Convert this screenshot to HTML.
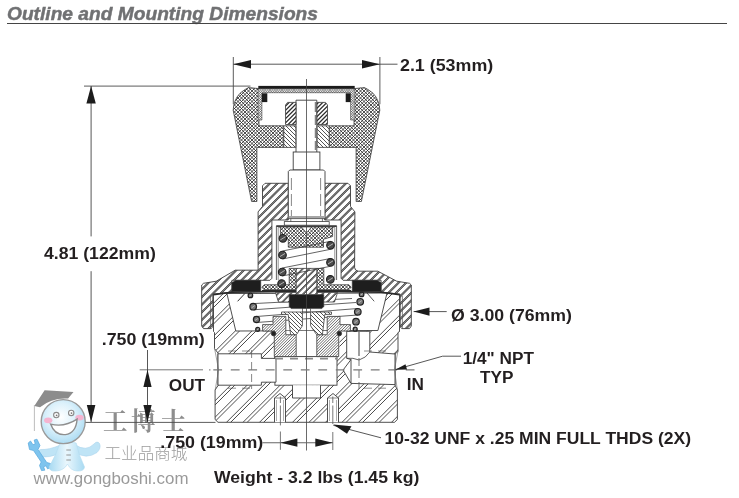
<!DOCTYPE html>
<html><head><meta charset="utf-8"><title>Outline and Mounting Dimensions</title>
<style>
html,body{margin:0;padding:0;background:#fff;}
body{width:739px;height:498px;overflow:hidden;position:relative;font-family:"Liberation Sans","Noto Sans CJK SC",sans-serif;}
#title{position:absolute;left:6.6px;top:2px;font-size:18.2px;font-style:italic;font-weight:700;color:#707173;white-space:nowrap;line-height:24px;transform:scaleX(1.054);transform-origin:0 0;will-change:transform;opacity:0.999;-webkit-text-stroke:0.45px #707173;}
#rule{position:absolute;left:7px;top:22.6px;width:720px;height:1.4px;background:#454545;}
svg{position:absolute;left:0;top:0;will-change:transform;opacity:0.999;}
svg text{font-family:"Liberation Sans","Noto Sans CJK SC",sans-serif;font-weight:700;}
</style></head><body>
<div id="title">Outline and Mounting Dimensions</div>
<div id="rule"></div>
<svg width="739" height="498" viewBox="0 0 739 498">

<g id="wm">
 <path d="M34.3,406 L44.6,390.3 L73.5,392.1 L68.1,398.6 Q52,397.5 40,407.2 Z" fill="#8c8c8c"/>
 <line x1="34.4" y1="405" x2="34.4" y2="431" stroke="#b5b5b5" stroke-width="0.9"/>
 <path d="M60.5,445 Q49,450 40.5,449.5 Q36.5,451 38.5,456 Q50,459 61,452 Z" fill="#bfe4f6" stroke="#a9d4ec" stroke-width="0.6"/>
 <path d="M75.5,445 Q86,452 94,444 Q97,440.5 99.5,443.5 Q101.5,448 97,452.5 Q86,460 75,452 Z" fill="#bfe4f6" stroke="#a9d4ec" stroke-width="0.6"/>
 <path d="M28.2,443 L30.5,441 L33,444.8 L35.2,443.8 L34.2,440 L37,439.2 L40,445.5 L38,449.5 L46.8,462.5 L50.5,463.5 L50.8,467.5 L47.5,468.8 L46,465.8 L43.6,466.8 L44.8,470.2 L41.5,470.6 L39.5,465.5 L41.2,462 L33.5,450.5 L29.5,449.5 Z" fill="#7ec4ee" stroke="#58a8dc" stroke-width="0.7"/>
 <path d="M60,443 Q68,440.5 76.2,443 Q78.5,455 84.5,467 Q84,471.5 77,471 Q70.5,470.5 67.5,464 Q64,470.5 56,471 Q49,471.5 49.2,467 Q56,455 60,443 Z" fill="url(#bg)" stroke="#b4dcf0" stroke-width="0.6"/>
 <path d="M66.3,450 h4.6 M66.3,455 h4.6 M66.3,460 h4.6" stroke="#8a8a8a" stroke-width="0.9"/>
 <circle cx="63.2" cy="421.6" r="22" fill="url(#hg)" stroke="#9a9a9a" stroke-width="1.4"/>
 <ellipse cx="48.2" cy="420.3" rx="4.2" ry="2.9" fill="#f5b4d0"/>
 <ellipse cx="79.5" cy="417.6" rx="4.2" ry="2.9" fill="#f5b4d0"/>
 <circle cx="56.3" cy="415.1" r="2.7" fill="#fff" stroke="#8a8a8a" stroke-width="1.1"/>
 <circle cx="71.2" cy="412.9" r="2.7" fill="#fff" stroke="#8a8a8a" stroke-width="1.1"/>
 <circle cx="56.6" cy="415.3" r="0.9" fill="#777"/><circle cx="71.5" cy="413.1" r="0.9" fill="#777"/>
 <path d="M50.6,424.1 Q64.5,427.5 77.1,419.2 Q76,433 65.4,434.6 Q54.5,435.5 50.6,424.1 Z" fill="#fff" stroke="#8e8e8e" stroke-width="1.4"/>
</g>

<text x="103 131 161" y="430" font-size="24.5" fill="#8e8e8e" style="font-family:'Noto Serif CJK SC','Liberation Serif',serif;font-weight:700">工博士</text><text x="104.6" y="459" font-size="16.4" fill="#9c9c9c" style="font-weight:300" textLength="82.6" lengthAdjust="spacingAndGlyphs">工业品商城</text><text x="33.5" y="483.5" font-size="15.6" fill="#9a9a9a" style="font-weight:400" textLength="155" lengthAdjust="spacingAndGlyphs">www.gongboshi.com</text>
<defs><pattern id="kx" width="3.5" height="3.5" patternUnits="userSpaceOnUse"><rect width="3.5" height="3.5" fill="#fff"/><path d="M-3.5,-3.5 L7.0,7.0 M-3.5,0 L3.5,7.0 M0,-3.5 L7.0,3.5 M-3.5,7.0 L7.0,-3.5 M-3.5,3.5 L3.5,-3.5 M0,7.0 L7.0,0" stroke="#222" stroke-width="0.8" fill="none"/></pattern><pattern id="kf" width="2.4" height="2.4" patternUnits="userSpaceOnUse"><rect width="2.4" height="2.4" fill="#fff"/><path d="M-2.4,-2.4 L4.8,4.8 M-2.4,0 L2.4,4.8 M0,-2.4 L4.8,2.4 M-2.4,4.8 L4.8,-2.4 M-2.4,2.4 L2.4,-2.4 M0,4.8 L4.8,0" stroke="#333" stroke-width="0.5" fill="none"/></pattern><pattern id="hw" width="20" height="5.4801" patternUnits="userSpaceOnUse" patternTransform="rotate(-45)"><rect width="20" height="5.4801" fill="#fff"/><rect x="0" y="-3.654" width="20" height="0.45" fill="#333"/><rect x="0" y="1.826" width="20" height="0.45" fill="#333"/><rect x="0" y="7.306" width="20" height="0.45" fill="#333"/><rect x="0" y="-2.382" width="20" height="0.45" fill="#333"/><rect x="0" y="3.098" width="20" height="0.45" fill="#333"/><rect x="0" y="8.578" width="20" height="0.45" fill="#333"/><rect x="0" y="-3.393" width="20" height="1.2" fill="#9c9c9c"/><rect x="0" y="2.087" width="20" height="1.2" fill="#9c9c9c"/><rect x="0" y="7.567" width="20" height="1.2" fill="#9c9c9c"/></pattern><pattern id="hB" width="20" height="11.6673" patternUnits="userSpaceOnUse" patternTransform="rotate(-45)"><rect width="20" height="11.6673" fill="#fff"/><rect x="0" y="-8.170" width="20" height="0.5" fill="#383838"/><rect x="0" y="3.498" width="20" height="0.5" fill="#383838"/><rect x="0" y="15.165" width="20" height="0.5" fill="#383838"/><rect x="0" y="-5.200" width="20" height="0.5" fill="#383838"/><rect x="0" y="6.468" width="20" height="0.5" fill="#383838"/><rect x="0" y="18.135" width="20" height="0.5" fill="#383838"/></pattern><pattern id="hd" width="20" height="1.9799" patternUnits="userSpaceOnUse" patternTransform="rotate(-45)"><rect width="20" height="1.9799" fill="#fff"/><rect x="0" y="-2.305" width="20" height="0.65" fill="#333"/><rect x="0" y="-0.325" width="20" height="0.65" fill="#333"/><rect x="0" y="1.655" width="20" height="0.65" fill="#333"/></pattern><pattern id="hn" width="20" height="2.9698" patternUnits="userSpaceOnUse" patternTransform="rotate(-45)"><rect width="20" height="2.9698" fill="#fff"/><rect x="0" y="-2.888" width="20" height="1.25" fill="#333"/><rect x="0" y="0.082" width="20" height="1.25" fill="#333"/><rect x="0" y="3.052" width="20" height="1.25" fill="#333"/></pattern><pattern id="hb" width="20" height="2.8284" patternUnits="userSpaceOnUse" patternTransform="rotate(45)"><rect width="20" height="2.8284" fill="#fff"/><rect x="0" y="-3.128" width="20" height="0.6" fill="#333"/><rect x="0" y="-0.300" width="20" height="0.6" fill="#333"/><rect x="0" y="2.528" width="20" height="0.6" fill="#333"/></pattern><pattern id="hp" width="20" height="3.5355" patternUnits="userSpaceOnUse" patternTransform="rotate(-45)"><rect width="20" height="3.5355" fill="#fff"/><rect x="0" y="-4.036" width="20" height="1.0" fill="#3a3a3a"/><rect x="0" y="-0.500" width="20" height="1.0" fill="#3a3a3a"/><rect x="0" y="3.036" width="20" height="1.0" fill="#3a3a3a"/></pattern>
<radialGradient id="hg" cx="0.45" cy="0.4" r="0.65">
 <stop offset="0" stop-color="#ffffff"/><stop offset="0.5" stop-color="#dcf1fb"/><stop offset="1" stop-color="#a6d9f2"/>
</radialGradient>
<linearGradient id="bg" x1="0" x2="1" y1="0" y2="0">
 <stop offset="0" stop-color="#a8daf2"/><stop offset="0.5" stop-color="#eaf7fd"/><stop offset="1" stop-color="#a8daf2"/>
</linearGradient>
</defs>

<clipPath id="c1"><path d="M213.5,293.0 L213.5,331.5 L214.5,332.5 L214.5,348.7 L218.0,353.0 L218.0,385.5 L215.1,390.0 L215.1,419.5 L218.0,422.3 L394.5,422.3 L397.4,419.5 L397.4,390.0 L395.0,385.0 L395.0,354.0 L398.0,351.5 L398.0,332.5 L399.5,331.5 L399.5,293.0Z"/></clipPath>
<path d="M213.5,293.0 L213.5,331.5 L214.5,332.5 L214.5,348.7 L218.0,353.0 L218.0,385.5 L215.1,390.0 L215.1,419.5 L218.0,422.3 L394.5,422.3 L397.4,419.5 L397.4,390.0 L395.0,385.0 L395.0,354.0 L398.0,351.5 L398.0,332.5 L399.5,331.5 L399.5,293.0Z" fill="#fff" stroke="none"/>
<g clip-path="url(#c1)" fill="none">
<path d="M93.50,423.30L224.80,292.00M110.00,423.30L241.30,292.00M126.50,423.30L257.80,292.00M143.00,423.30L274.30,292.00M159.50,423.30L290.80,292.00M176.00,423.30L307.30,292.00M192.50,423.30L323.80,292.00M209.00,423.30L340.30,292.00M225.50,423.30L356.80,292.00M242.00,423.30L373.30,292.00M258.50,423.30L389.80,292.00M275.00,423.30L406.30,292.00M291.50,423.30L422.80,292.00M308.00,423.30L439.30,292.00M324.50,423.30L455.80,292.00M341.00,423.30L472.30,292.00M357.50,423.30L488.80,292.00M374.00,423.30L505.30,292.00M390.50,423.30L521.80,292.00M81.20,423.30L212.50,292.00M97.70,423.30L229.00,292.00M114.20,423.30L245.50,292.00M130.70,423.30L262.00,292.00M147.20,423.30L278.50,292.00M163.70,423.30L295.00,292.00M180.20,423.30L311.50,292.00M196.70,423.30L328.00,292.00M213.20,423.30L344.50,292.00M229.70,423.30L361.00,292.00M246.20,423.30L377.50,292.00M262.70,423.30L394.00,292.00M279.20,423.30L410.50,292.00M295.70,423.30L427.00,292.00M312.20,423.30L443.50,292.00M328.70,423.30L460.00,292.00M345.20,423.30L476.50,292.00M361.70,423.30L493.00,292.00M378.20,423.30L509.50,292.00M394.70,423.30L526.00,292.00" stroke="#2c2c2c" stroke-width="0.85"/>
</g>
<path d="M213.5,293.0 L213.5,331.5 L214.5,332.5 L214.5,348.7 L218.0,353.0 L218.0,385.5 L215.1,390.0 L215.1,419.5 L218.0,422.3 L394.5,422.3 L397.4,419.5 L397.4,390.0 L395.0,385.0 L395.0,354.0 L398.0,351.5 L398.0,332.5 L399.5,331.5 L399.5,293.0Z" fill="none" stroke="#3c3c3c" stroke-width="0.9"/>
<path d="M226.9,293.5 L235.8,331.0 L377.9,330.5 L387.0,293.0Z" fill="#fff" stroke="#3c3c3c" stroke-width="0.9" />
<rect x="274.3" y="331.0" width="65.1" height="26.0" fill="#fff" stroke="none" stroke-width="0.9" />
<rect x="274.9" y="356.6" width="62.1" height="28.6" fill="#fff" stroke="#3c3c3c" stroke-width="0.9" />
<path d="M292.5,385.2 L292.5,398.0 L320.5,398.0 L320.5,385.2" fill="#fff" stroke="#3c3c3c" stroke-width="0.9" />
<path d="M218.0,353.8 L261.4,353.8 L261.4,358.4 L276.0,358.4 L276.0,382.2 L261.4,382.2 L261.4,385.2 L218.0,385.2Z" fill="#fff" stroke="#3c3c3c" stroke-width="0.9" />
<path d="M395.0,354.0 L369.8,352.0 L369.8,331.3 L346.7,331.3 L346.7,358.3 L351.0,359.5 L343.1,370.0 L351.0,383.4 L395.0,384.6Z" fill="#fff" stroke="#3c3c3c" stroke-width="0.9" />
<line x1="351.0" y1="359.5" x2="351.0" y2="383.4" stroke="#3c3c3c" stroke-width="0.9" />
<path d="M346.7,358.3 Q353,357.5 359,360 Q366,358 369.8,352" fill="none" stroke="#3c3c3c" stroke-width="0.8" />
<line x1="359.0" y1="331.8" x2="359.0" y2="356.0" stroke="#6a6a6a" stroke-width="1.3" />
<path d="M274.5,422.3 L274.5,398.0 L280.0,393.5 L285.5,398.0 L285.5,422.3" fill="#fff" stroke="#3c3c3c" stroke-width="0.9" />
<line x1="274.5" y1="398.0" x2="285.5" y2="398.0" stroke="#3c3c3c" stroke-width="0.6" />
<line x1="276.5" y1="400.0" x2="276.5" y2="421.0" stroke="#777" stroke-width="0.6" />
<line x1="283.5" y1="400.0" x2="283.5" y2="421.0" stroke="#777" stroke-width="0.6" />
<path d="M327.5,422.3 L327.5,398.0 L333.0,393.5 L338.5,398.0 L338.5,422.3" fill="#fff" stroke="#3c3c3c" stroke-width="0.9" />
<line x1="327.5" y1="398.0" x2="338.5" y2="398.0" stroke="#3c3c3c" stroke-width="0.6" />
<line x1="329.5" y1="400.0" x2="329.5" y2="421.0" stroke="#777" stroke-width="0.6" />
<line x1="336.5" y1="400.0" x2="336.5" y2="421.0" stroke="#777" stroke-width="0.6" />
<line x1="228.0" y1="351.0" x2="253.0" y2="351.0" stroke="#444" stroke-width="0.6" stroke-dasharray="8,6"/>
<line x1="364.0" y1="351.0" x2="392.0" y2="351.0" stroke="#444" stroke-width="0.6" stroke-dasharray="8,6"/>
<line x1="228.0" y1="388.2" x2="253.0" y2="388.2" stroke="#444" stroke-width="0.6" stroke-dasharray="8,6"/>
<line x1="364.0" y1="388.2" x2="392.0" y2="388.2" stroke="#444" stroke-width="0.6" stroke-dasharray="8,6"/>
<line x1="251.6" y1="350.0" x2="251.6" y2="389.0" stroke="#555" stroke-width="0.7" stroke-dasharray="8,4"/>
<line x1="359.0" y1="358.0" x2="359.0" y2="389.0" stroke="#555" stroke-width="0.8" stroke-dasharray="8,4"/>
<line x1="253.2" y1="303.6" x2="352.0" y2="298.5" stroke="#3c3c3c" stroke-width="0.8" />
<line x1="253.2" y1="309.8" x2="356.0" y2="302.5" stroke="#3c3c3c" stroke-width="0.8" />
<line x1="256.5" y1="316.5" x2="357.8" y2="308.5" stroke="#3c3c3c" stroke-width="0.8" />
<line x1="256.5" y1="322.5" x2="357.8" y2="315.0" stroke="#3c3c3c" stroke-width="0.8" />
<circle cx="253.2" cy="306.7" r="3.3" fill="#777" stroke="#222" stroke-width="1.2"/>
<line x1="251.5" y1="307.9" x2="254.8" y2="305.5" stroke="#ddd" stroke-width="0.6" />
<circle cx="256.5" cy="319.5" r="3.1" fill="#777" stroke="#222" stroke-width="1.2"/>
<line x1="254.9" y1="320.6" x2="258.1" y2="318.4" stroke="#ddd" stroke-width="0.6" />
<circle cx="257.7" cy="329.3" r="2.0" fill="#777" stroke="#222" stroke-width="1.2"/>
<line x1="256.7" y1="330.0" x2="258.7" y2="328.6" stroke="#ddd" stroke-width="0.6" />
<circle cx="360.2" cy="301.8" r="3.3" fill="#777" stroke="#222" stroke-width="1.2"/>
<line x1="358.6" y1="303.0" x2="361.8" y2="300.6" stroke="#ddd" stroke-width="0.6" />
<circle cx="357.8" cy="311.8" r="3.3" fill="#777" stroke="#222" stroke-width="1.2"/>
<line x1="356.2" y1="313.0" x2="359.4" y2="310.6" stroke="#ddd" stroke-width="0.6" />
<circle cx="356.0" cy="321.7" r="3.3" fill="#777" stroke="#222" stroke-width="1.2"/>
<line x1="354.4" y1="322.9" x2="357.6" y2="320.5" stroke="#ddd" stroke-width="0.6" />
<circle cx="250.4" cy="295.4" r="2.3" fill="#777" stroke="#222" stroke-width="1.2"/>
<line x1="249.2" y1="296.2" x2="251.6" y2="294.6" stroke="#ddd" stroke-width="0.6" />
<circle cx="361.6" cy="294.4" r="2.3" fill="#777" stroke="#222" stroke-width="1.2"/>
<line x1="360.5" y1="295.2" x2="362.8" y2="293.6" stroke="#ddd" stroke-width="0.6" />
<circle cx="355.2" cy="329.2" r="2.0" fill="#777" stroke="#222" stroke-width="1.2"/>
<line x1="354.2" y1="329.9" x2="356.2" y2="328.5" stroke="#ddd" stroke-width="0.6" />
<line x1="237.6" y1="301.3" x2="245.0" y2="293.4" stroke="#333" stroke-width="1.0" />
<line x1="367.0" y1="293.0" x2="374.2" y2="301.3" stroke="#333" stroke-width="0.8" />
<clipPath id="c2"><path d="M273.0,316.4 L285.8,316.4 L285.8,334.7 L296.2,334.7 L296.2,356.6 L274.3,356.6 L274.3,331.0 L262.6,331.0 L262.6,324.6 L273.0,324.6Z M340.0,316.4 L327.2,316.4 L327.2,334.7 L316.8,334.7 L316.8,356.6 L338.7,356.6 L338.7,331.0 L350.4,331.0 L350.4,324.6 L340.0,324.6Z"/></clipPath>
<path d="M273.0,316.4 L285.8,316.4 L285.8,334.7 L296.2,334.7 L296.2,356.6 L274.3,356.6 L274.3,331.0 L262.6,331.0 L262.6,324.6 L273.0,324.6Z M340.0,316.4 L327.2,316.4 L327.2,334.7 L316.8,334.7 L316.8,356.6 L338.7,356.6 L338.7,331.0 L350.4,331.0 L350.4,324.6 L340.0,324.6Z" fill="#fff" stroke="none"/>
<g clip-path="url(#c2)" fill="none">
<path d="M222.00,357.60L264.20,315.40M224.80,357.60L267.00,315.40M227.60,357.60L269.80,315.40M230.40,357.60L272.60,315.40M233.20,357.60L275.40,315.40M236.00,357.60L278.20,315.40M238.80,357.60L281.00,315.40M241.60,357.60L283.80,315.40M244.40,357.60L286.60,315.40M247.20,357.60L289.40,315.40M250.00,357.60L292.20,315.40M252.80,357.60L295.00,315.40M255.60,357.60L297.80,315.40M258.40,357.60L300.60,315.40M261.20,357.60L303.40,315.40M264.00,357.60L306.20,315.40M266.80,357.60L309.00,315.40M269.60,357.60L311.80,315.40M272.40,357.60L314.60,315.40M275.20,357.60L317.40,315.40M278.00,357.60L320.20,315.40M280.80,357.60L323.00,315.40M283.60,357.60L325.80,315.40M286.40,357.60L328.60,315.40M289.20,357.60L331.40,315.40M292.00,357.60L334.20,315.40M294.80,357.60L337.00,315.40M297.60,357.60L339.80,315.40M300.40,357.60L342.60,315.40M303.20,357.60L345.40,315.40M306.00,357.60L348.20,315.40M308.80,357.60L351.00,315.40M311.60,357.60L353.80,315.40M314.40,357.60L356.60,315.40M317.20,357.60L359.40,315.40M320.00,357.60L362.20,315.40M322.80,357.60L365.00,315.40M325.60,357.60L367.80,315.40M328.40,357.60L370.60,315.40M331.20,357.60L373.40,315.40M334.00,357.60L376.20,315.40M336.80,357.60L379.00,315.40M339.60,357.60L381.80,315.40M342.40,357.60L384.60,315.40M345.20,357.60L387.40,315.40M348.00,357.60L390.20,315.40M350.80,357.60L393.00,315.40" stroke="#2e2e2e" stroke-width="0.7"/>
</g>
<path d="M273.0,316.4 L285.8,316.4 L285.8,334.7 L296.2,334.7 L296.2,356.6 L274.3,356.6 L274.3,331.0 L262.6,331.0 L262.6,324.6 L273.0,324.6Z M340.0,316.4 L327.2,316.4 L327.2,334.7 L316.8,334.7 L316.8,356.6 L338.7,356.6 L338.7,331.0 L350.4,331.0 L350.4,324.6 L340.0,324.6Z" fill="none" stroke="#3c3c3c" stroke-width="0.8"/>
<clipPath id="c3"><path d="M281.5,312.0 L302.4,312.0 L302.4,325.8 L296.4,334.7 L290.6,334.7 L288.2,314.4 L281.5,314.4Z M331.5,312.0 L310.6,312.0 L310.6,325.8 L316.6,334.7 L322.4,334.7 L324.8,314.4 L331.5,314.4Z"/></clipPath>
<path d="M281.5,312.0 L302.4,312.0 L302.4,325.8 L296.4,334.7 L290.6,334.7 L288.2,314.4 L281.5,314.4Z M331.5,312.0 L310.6,312.0 L310.6,325.8 L316.6,334.7 L322.4,334.7 L324.8,314.4 L331.5,314.4Z" fill="#fff" stroke="none"/>
<g clip-path="url(#c3)" fill="none">
<path d="M259.00,311.00L283.70,335.70M263.00,311.00L287.70,335.70M267.00,311.00L291.70,335.70M271.00,311.00L295.70,335.70M275.00,311.00L299.70,335.70M279.00,311.00L303.70,335.70M283.00,311.00L307.70,335.70M287.00,311.00L311.70,335.70M291.00,311.00L315.70,335.70M295.00,311.00L319.70,335.70M299.00,311.00L323.70,335.70M303.00,311.00L327.70,335.70M307.00,311.00L331.70,335.70M311.00,311.00L335.70,335.70M315.00,311.00L339.70,335.70M319.00,311.00L343.70,335.70M323.00,311.00L347.70,335.70M327.00,311.00L351.70,335.70M331.00,311.00L355.70,335.70" stroke="#2a2a2a" stroke-width="0.8"/>
</g>
<path d="M281.5,312.0 L302.4,312.0 L302.4,325.8 L296.4,334.7 L290.6,334.7 L288.2,314.4 L281.5,314.4Z M331.5,312.0 L310.6,312.0 L310.6,325.8 L316.6,334.7 L322.4,334.7 L324.8,314.4 L331.5,314.4Z" fill="none" stroke="#3c3c3c" stroke-width="0.8"/>
<circle cx="273.6" cy="333.6" r="2.3" fill="#222" stroke="#3c3c3c" stroke-width="0.9"/>
<circle cx="339.3" cy="333.6" r="2.3" fill="#222" stroke="#3c3c3c" stroke-width="0.9"/>
<line x1="275.0" y1="358.6" x2="337.0" y2="358.6" stroke="#8a8a8a" stroke-width="1.6" stroke-dasharray="8,7"/>
<clipPath id="c4"><path d="M275.4,292.4 L337.6,292.4 L334.5,302.0 L278.5,302.0Z"/></clipPath>
<path d="M275.4,292.4 L337.6,292.4 L334.5,302.0 L278.5,302.0Z" fill="#fff" stroke="none"/>
<g clip-path="url(#c4)" fill="none">
<path d="M268.60,303.00L280.20,291.40M275.00,303.00L286.60,291.40M281.40,303.00L293.00,291.40M287.80,303.00L299.40,291.40M294.20,303.00L305.80,291.40M300.60,303.00L312.20,291.40M307.00,303.00L318.60,291.40M313.40,303.00L325.00,291.40M319.80,303.00L331.40,291.40M326.20,303.00L337.80,291.40M332.60,303.00L344.20,291.40" stroke="#8a8a8a" stroke-width="1.4"/>
<path d="M267.80,303.00L279.40,291.40M274.20,303.00L285.80,291.40M280.60,303.00L292.20,291.40M287.00,303.00L298.60,291.40M293.40,303.00L305.00,291.40M299.80,303.00L311.40,291.40M306.20,303.00L317.80,291.40M312.60,303.00L324.20,291.40M319.00,303.00L330.60,291.40M325.40,303.00L337.00,291.40M331.80,303.00L343.40,291.40M338.20,303.00L349.80,291.40M263.00,303.00L274.60,291.40M269.40,303.00L281.00,291.40M275.80,303.00L287.40,291.40M282.20,303.00L293.80,291.40M288.60,303.00L300.20,291.40M295.00,303.00L306.60,291.40M301.40,303.00L313.00,291.40M307.80,303.00L319.40,291.40M314.20,303.00L325.80,291.40M320.60,303.00L332.20,291.40M327.00,303.00L338.60,291.40M333.40,303.00L345.00,291.40" stroke="#222" stroke-width="0.6"/>
</g>
<path d="M275.4,292.4 L337.6,292.4 L334.5,302.0 L278.5,302.0Z" fill="none" stroke="#3c3c3c" stroke-width="0.8"/>
<path d="M289.2,294.6 L323.8,294.6 L323.8,306.5 L321.8,308.6 L291.2,308.6 L289.2,306.5Z" fill="#1e1e1e" stroke="#3c3c3c" stroke-width="0.6" />
<rect x="302.6" y="308.6" width="7.8" height="3.2" fill="#fff" stroke="#3c3c3c" stroke-width="0.7" />
<clipPath id="c5"><path d="M288.3,183.3 L265.0,183.3 L262.5,185.8 L262.5,206.4 L258.1,211.9 L258.1,270.2 L235.2,270.2 L216.3,281.2 L203.5,283.3 L201.7,285.0 L201.7,326.0 L203.5,328.6 L211.0,328.6 L212.8,327.0 L212.8,294.2 L231.9,292.0 L231.9,280.3 L269.9,280.3 L271.9,278.3 L271.9,220.0 L288.3,220.0Z M324.7,183.3 L348.0,183.3 L350.5,185.8 L350.5,206.4 L354.9,211.9 L354.6,267.6 L355.6,270.0 L358.2,271.2 L377.8,271.2 L396.7,281.2 L409.5,283.3 L411.3,285.0 L411.3,326.0 L409.5,328.6 L402.0,328.6 L400.2,327.0 L400.2,294.2 L381.1,292.0 L381.1,280.3 L343.1,280.3 L341.1,278.3 L341.1,220.0 L324.7,220.0Z"/></clipPath>
<path d="M288.3,183.3 L265.0,183.3 L262.5,185.8 L262.5,206.4 L258.1,211.9 L258.1,270.2 L235.2,270.2 L216.3,281.2 L203.5,283.3 L201.7,285.0 L201.7,326.0 L203.5,328.6 L211.0,328.6 L212.8,327.0 L212.8,294.2 L231.9,292.0 L231.9,280.3 L269.9,280.3 L271.9,278.3 L271.9,220.0 L288.3,220.0Z M324.7,183.3 L348.0,183.3 L350.5,185.8 L350.5,206.4 L354.9,211.9 L354.6,267.6 L355.6,270.0 L358.2,271.2 L377.8,271.2 L396.7,281.2 L409.5,283.3 L411.3,285.0 L411.3,326.0 L409.5,328.6 L402.0,328.6 L400.2,327.0 L400.2,294.2 L381.1,292.0 L381.1,280.3 L343.1,280.3 L341.1,278.3 L341.1,220.0 L324.7,220.0Z" fill="#fff" stroke="none"/>
<g clip-path="url(#c5)" fill="none">
<path d="M55.30,329.60L202.60,182.30M62.90,329.60L210.20,182.30M70.50,329.60L217.80,182.30M78.10,329.60L225.40,182.30M85.70,329.60L233.00,182.30M93.30,329.60L240.60,182.30M100.90,329.60L248.20,182.30M108.50,329.60L255.80,182.30M116.10,329.60L263.40,182.30M123.70,329.60L271.00,182.30M131.30,329.60L278.60,182.30M138.90,329.60L286.20,182.30M146.50,329.60L293.80,182.30M154.10,329.60L301.40,182.30M161.70,329.60L309.00,182.30M169.30,329.60L316.60,182.30M176.90,329.60L324.20,182.30M184.50,329.60L331.80,182.30M192.10,329.60L339.40,182.30M199.70,329.60L347.00,182.30M207.30,329.60L354.60,182.30M214.90,329.60L362.20,182.30M222.50,329.60L369.80,182.30M230.10,329.60L377.40,182.30M237.70,329.60L385.00,182.30M245.30,329.60L392.60,182.30M252.90,329.60L400.20,182.30M260.50,329.60L407.80,182.30M268.10,329.60L415.40,182.30M275.70,329.60L423.00,182.30M283.30,329.60L430.60,182.30M290.90,329.60L438.20,182.30M298.50,329.60L445.80,182.30M306.10,329.60L453.40,182.30M313.70,329.60L461.00,182.30M321.30,329.60L468.60,182.30M328.90,329.60L476.20,182.30M336.50,329.60L483.80,182.30M344.10,329.60L491.40,182.30M351.70,329.60L499.00,182.30M359.30,329.60L506.60,182.30M366.90,329.60L514.20,182.30M374.50,329.60L521.80,182.30M382.10,329.60L529.40,182.30M389.70,329.60L537.00,182.30M397.30,329.60L544.60,182.30M404.90,329.60L552.20,182.30" stroke="#8a8a8a" stroke-width="1.7"/>
<path d="M54.30,329.60L201.60,182.30M61.90,329.60L209.20,182.30M69.50,329.60L216.80,182.30M77.10,329.60L224.40,182.30M84.70,329.60L232.00,182.30M92.30,329.60L239.60,182.30M99.90,329.60L247.20,182.30M107.50,329.60L254.80,182.30M115.10,329.60L262.40,182.30M122.70,329.60L270.00,182.30M130.30,329.60L277.60,182.30M137.90,329.60L285.20,182.30M145.50,329.60L292.80,182.30M153.10,329.60L300.40,182.30M160.70,329.60L308.00,182.30M168.30,329.60L315.60,182.30M175.90,329.60L323.20,182.30M183.50,329.60L330.80,182.30M191.10,329.60L338.40,182.30M198.70,329.60L346.00,182.30M206.30,329.60L353.60,182.30M213.90,329.60L361.20,182.30M221.50,329.60L368.80,182.30M229.10,329.60L376.40,182.30M236.70,329.60L384.00,182.30M244.30,329.60L391.60,182.30M251.90,329.60L399.20,182.30M259.50,329.60L406.80,182.30M267.10,329.60L414.40,182.30M274.70,329.60L422.00,182.30M282.30,329.60L429.60,182.30M289.90,329.60L437.20,182.30M297.50,329.60L444.80,182.30M305.10,329.60L452.40,182.30M312.70,329.60L460.00,182.30M320.30,329.60L467.60,182.30M327.90,329.60L475.20,182.30M335.50,329.60L482.80,182.30M343.10,329.60L490.40,182.30M350.70,329.60L498.00,182.30M358.30,329.60L505.60,182.30M365.90,329.60L513.20,182.30M373.50,329.60L520.80,182.30M381.10,329.60L528.40,182.30M388.70,329.60L536.00,182.30M396.30,329.60L543.60,182.30M403.90,329.60L551.20,182.30M411.50,329.60L558.80,182.30M56.30,329.60L203.60,182.30M63.90,329.60L211.20,182.30M71.50,329.60L218.80,182.30M79.10,329.60L226.40,182.30M86.70,329.60L234.00,182.30M94.30,329.60L241.60,182.30M101.90,329.60L249.20,182.30M109.50,329.60L256.80,182.30M117.10,329.60L264.40,182.30M124.70,329.60L272.00,182.30M132.30,329.60L279.60,182.30M139.90,329.60L287.20,182.30M147.50,329.60L294.80,182.30M155.10,329.60L302.40,182.30M162.70,329.60L310.00,182.30M170.30,329.60L317.60,182.30M177.90,329.60L325.20,182.30M185.50,329.60L332.80,182.30M193.10,329.60L340.40,182.30M200.70,329.60L348.00,182.30M208.30,329.60L355.60,182.30M215.90,329.60L363.20,182.30M223.50,329.60L370.80,182.30M231.10,329.60L378.40,182.30M238.70,329.60L386.00,182.30M246.30,329.60L393.60,182.30M253.90,329.60L401.20,182.30M261.50,329.60L408.80,182.30M269.10,329.60L416.40,182.30M276.70,329.60L424.00,182.30M284.30,329.60L431.60,182.30M291.90,329.60L439.20,182.30M299.50,329.60L446.80,182.30M307.10,329.60L454.40,182.30M314.70,329.60L462.00,182.30M322.30,329.60L469.60,182.30M329.90,329.60L477.20,182.30M337.50,329.60L484.80,182.30M345.10,329.60L492.40,182.30M352.70,329.60L500.00,182.30M360.30,329.60L507.60,182.30M367.90,329.60L515.20,182.30M375.50,329.60L522.80,182.30M383.10,329.60L530.40,182.30M390.70,329.60L538.00,182.30M398.30,329.60L545.60,182.30M405.90,329.60L553.20,182.30" stroke="#202020" stroke-width="0.65"/>
</g>
<path d="M288.3,183.3 L265.0,183.3 L262.5,185.8 L262.5,206.4 L258.1,211.9 L258.1,270.2 L235.2,270.2 L216.3,281.2 L203.5,283.3 L201.7,285.0 L201.7,326.0 L203.5,328.6 L211.0,328.6 L212.8,327.0 L212.8,294.2 L231.9,292.0 L231.9,280.3 L269.9,280.3 L271.9,278.3 L271.9,220.0 L288.3,220.0Z M324.7,183.3 L348.0,183.3 L350.5,185.8 L350.5,206.4 L354.9,211.9 L354.6,267.6 L355.6,270.0 L358.2,271.2 L377.8,271.2 L396.7,281.2 L409.5,283.3 L411.3,285.0 L411.3,326.0 L409.5,328.6 L402.0,328.6 L400.2,327.0 L400.2,294.2 L381.1,292.0 L381.1,280.3 L343.1,280.3 L341.1,278.3 L341.1,220.0 L324.7,220.0Z" fill="none" stroke="#3c3c3c" stroke-width="0.9"/>
<line x1="210.6" y1="296.0" x2="210.6" y2="328.0" stroke="#555" stroke-width="0.7" />
<line x1="402.4" y1="296.0" x2="402.4" y2="328.0" stroke="#555" stroke-width="0.7" />
<path d="M231.9,282.5 L236.0,280.3 L260.8,280.3 L260.8,291.3 L231.9,291.8Z" fill="#1e1e1e" stroke="#3c3c3c" stroke-width="0.5" />
<path d="M381.1,282.5 L377.0,280.3 L352.2,280.3 L352.2,291.3 L381.1,291.8Z" fill="#1e1e1e" stroke="#3c3c3c" stroke-width="0.5" />
<path d="M213.5,294.6 L232.0,292.3 L275.0,291.2 L338.0,291.2 L381.0,292.3 L399.5,294.6" fill="none" stroke="#2a2a2a" stroke-width="1.6" />
<line x1="262.0" y1="291.0" x2="296.2" y2="291.0" stroke="#2a2a2a" stroke-width="2.2" />
<line x1="316.8" y1="291.0" x2="351.0" y2="291.0" stroke="#2a2a2a" stroke-width="2.2" />
<clipPath id="c6"><path d="M289.2,268.4 L296.2,268.4 L296.2,289.7 L264.0,289.7 L262.0,287.3 L264.0,284.8 L289.2,284.8Z M323.8,268.4 L316.8,268.4 L316.8,289.7 L349.0,289.7 L351.0,287.3 L349.0,284.8 L323.8,284.8Z"/></clipPath>
<path d="M289.2,268.4 L296.2,268.4 L296.2,289.7 L264.0,289.7 L262.0,287.3 L264.0,284.8 L289.2,284.8Z M323.8,268.4 L316.8,268.4 L316.8,289.7 L349.0,289.7 L351.0,287.3 L349.0,284.8 L323.8,284.8Z" fill="#fff" stroke="none"/>
<g clip-path="url(#c6)" fill="none">
<path d="M237.80,290.70L261.10,267.40M241.30,290.70L264.60,267.40M244.80,290.70L268.10,267.40M248.30,290.70L271.60,267.40M251.80,290.70L275.10,267.40M255.30,290.70L278.60,267.40M258.80,290.70L282.10,267.40M262.30,290.70L285.60,267.40M265.80,290.70L289.10,267.40M269.30,290.70L292.60,267.40M272.80,290.70L296.10,267.40M276.30,290.70L299.60,267.40M279.80,290.70L303.10,267.40M283.30,290.70L306.60,267.40M286.80,290.70L310.10,267.40M290.30,290.70L313.60,267.40M293.80,290.70L317.10,267.40M297.30,290.70L320.60,267.40M300.80,290.70L324.10,267.40M304.30,290.70L327.60,267.40M307.80,290.70L331.10,267.40M311.30,290.70L334.60,267.40M314.80,290.70L338.10,267.40M318.30,290.70L341.60,267.40M321.80,290.70L345.10,267.40M325.30,290.70L348.60,267.40M328.80,290.70L352.10,267.40M332.30,290.70L355.60,267.40M335.80,290.70L359.10,267.40M339.30,290.70L362.60,267.40M342.80,290.70L366.10,267.40M346.30,290.70L369.60,267.40M349.80,290.70L373.10,267.40M239.40,267.40L262.70,290.70M242.90,267.40L266.20,290.70M246.40,267.40L269.70,290.70M249.90,267.40L273.20,290.70M253.40,267.40L276.70,290.70M256.90,267.40L280.20,290.70M260.40,267.40L283.70,290.70M263.90,267.40L287.20,290.70M267.40,267.40L290.70,290.70M270.90,267.40L294.20,290.70M274.40,267.40L297.70,290.70M277.90,267.40L301.20,290.70M281.40,267.40L304.70,290.70M284.90,267.40L308.20,290.70M288.40,267.40L311.70,290.70M291.90,267.40L315.20,290.70M295.40,267.40L318.70,290.70M298.90,267.40L322.20,290.70M302.40,267.40L325.70,290.70M305.90,267.40L329.20,290.70M309.40,267.40L332.70,290.70M312.90,267.40L336.20,290.70M316.40,267.40L339.70,290.70M319.90,267.40L343.20,290.70M323.40,267.40L346.70,290.70M326.90,267.40L350.20,290.70M330.40,267.40L353.70,290.70M333.90,267.40L357.20,290.70M337.40,267.40L360.70,290.70M340.90,267.40L364.20,290.70M344.40,267.40L367.70,290.70M347.90,267.40L371.20,290.70M351.40,267.40L374.70,290.70" stroke="#222" stroke-width="0.8"/>
</g>
<path d="M289.2,268.4 L296.2,268.4 L296.2,289.7 L264.0,289.7 L262.0,287.3 L264.0,284.8 L289.2,284.8Z M323.8,268.4 L316.8,268.4 L316.8,289.7 L349.0,289.7 L351.0,287.3 L349.0,284.8 L323.8,284.8Z" fill="none" stroke="#3c3c3c" stroke-width="0.8"/>
<clipPath id="c7"><path d="M296.2,268.4 L316.8,268.4 L316.8,294.6 L296.2,294.6Z"/></clipPath>
<path d="M296.2,268.4 L316.8,268.4 L316.8,294.6 L296.2,294.6Z" fill="#fff" stroke="none"/>
<g clip-path="url(#c7)" fill="none">
<path d="M269.60,295.60L297.80,267.40M276.00,295.60L304.20,267.40M282.40,295.60L310.60,267.40M288.80,295.60L317.00,267.40M295.20,295.60L323.40,267.40M301.60,295.60L329.80,267.40M308.00,295.60L336.20,267.40M314.40,295.60L342.60,267.40" stroke="#8a8a8a" stroke-width="1.4"/>
<path d="M268.80,295.60L297.00,267.40M275.20,295.60L303.40,267.40M281.60,295.60L309.80,267.40M288.00,295.60L316.20,267.40M294.40,295.60L322.60,267.40M300.80,295.60L329.00,267.40M307.20,295.60L335.40,267.40M313.60,295.60L341.80,267.40M270.40,295.60L298.60,267.40M276.80,295.60L305.00,267.40M283.20,295.60L311.40,267.40M289.60,295.60L317.80,267.40M296.00,295.60L324.20,267.40M302.40,295.60L330.60,267.40M308.80,295.60L337.00,267.40M315.20,295.60L343.40,267.40" stroke="#222" stroke-width="0.6"/>
</g>
<path d="M296.2,268.4 L316.8,268.4 L316.8,294.6 L296.2,294.6Z" fill="none" stroke="#3c3c3c" stroke-width="0.8"/>
<path d="M276.4,280.0 L276.4,225.8 L336.6,225.8 L336.6,280.0" fill="none" stroke="#3c3c3c" stroke-width="0.8" />
<line x1="276.4" y1="226.2" x2="336.6" y2="226.2" stroke="#3c3c3c" stroke-width="1.5" />
<path d="M278.2,280.0 L278.2,227.4 L334.8,227.4 L334.8,280.0" fill="none" stroke="#666" stroke-width="0.7" />
<rect x="284.3" y="221.6" width="44.9" height="3.6" fill="#fff" stroke="#3c3c3c" stroke-width="0.8" />
<clipPath id="c8"><path d="M280.4,227.0 L332.6,227.0 L332.6,236.5 L323.5,239.2 L323.5,247.2 L288.3,247.2 L288.3,239.2 L280.4,236.5Z"/></clipPath>
<path d="M280.4,227.0 L332.6,227.0 L332.6,236.5 L323.5,239.2 L323.5,247.2 L288.3,247.2 L288.3,239.2 L280.4,236.5Z" fill="#fff" stroke="none"/>
<g clip-path="url(#c8)" fill="none">
<path d="M259.30,248.20L281.50,226.00M262.80,248.20L285.00,226.00M266.30,248.20L288.50,226.00M269.80,248.20L292.00,226.00M273.30,248.20L295.50,226.00M276.80,248.20L299.00,226.00M280.30,248.20L302.50,226.00M283.80,248.20L306.00,226.00M287.30,248.20L309.50,226.00M290.80,248.20L313.00,226.00M294.30,248.20L316.50,226.00M297.80,248.20L320.00,226.00M301.30,248.20L323.50,226.00M304.80,248.20L327.00,226.00M308.30,248.20L330.50,226.00M311.80,248.20L334.00,226.00M315.30,248.20L337.50,226.00M318.80,248.20L341.00,226.00M322.30,248.20L344.50,226.00M325.80,248.20L348.00,226.00M329.30,248.20L351.50,226.00M332.80,248.20L355.00,226.00M257.50,226.00L279.70,248.20M261.00,226.00L283.20,248.20M264.50,226.00L286.70,248.20M268.00,226.00L290.20,248.20M271.50,226.00L293.70,248.20M275.00,226.00L297.20,248.20M278.50,226.00L300.70,248.20M282.00,226.00L304.20,248.20M285.50,226.00L307.70,248.20M289.00,226.00L311.20,248.20M292.50,226.00L314.70,248.20M296.00,226.00L318.20,248.20M299.50,226.00L321.70,248.20M303.00,226.00L325.20,248.20M306.50,226.00L328.70,248.20M310.00,226.00L332.20,248.20M313.50,226.00L335.70,248.20M317.00,226.00L339.20,248.20M320.50,226.00L342.70,248.20M324.00,226.00L346.20,248.20M327.50,226.00L349.70,248.20M331.00,226.00L353.20,248.20" stroke="#222" stroke-width="0.8"/>
</g>
<path d="M280.4,227.0 L332.6,227.0 L332.6,236.5 L323.5,239.2 L323.5,247.2 L288.3,247.2 L288.3,239.2 L280.4,236.5Z" fill="none" stroke="#3c3c3c" stroke-width="0.8"/>
<path d="M301.5,227.0 L306.5,233.0 L311.5,227.0Z" fill="#fff" stroke="#3c3c3c" stroke-width="0.7" />
<line x1="282.5" y1="251.0" x2="330.5" y2="241.3" stroke="#3c3c3c" stroke-width="0.8" />
<line x1="282.5" y1="259.0" x2="330.5" y2="249.3" stroke="#3c3c3c" stroke-width="0.8" />
<line x1="282.2" y1="268.0" x2="330.3" y2="258.5" stroke="#3c3c3c" stroke-width="0.8" />
<line x1="282.2" y1="276.0" x2="330.3" y2="266.3" stroke="#3c3c3c" stroke-width="0.8" />
<circle cx="282.9" cy="238.3" r="3.8" fill="#4a4a4a" stroke="#1e1e1e" stroke-width="1.1"/>
<line x1="280.3" y1="239.9" x2="285.5" y2="236.7" stroke="#e0e0e0" stroke-width="0.7" />
<circle cx="282.5" cy="255.0" r="3.8" fill="#4a4a4a" stroke="#1e1e1e" stroke-width="1.1"/>
<line x1="279.9" y1="256.6" x2="285.1" y2="253.4" stroke="#e0e0e0" stroke-width="0.7" />
<circle cx="282.2" cy="272.0" r="3.8" fill="#4a4a4a" stroke="#1e1e1e" stroke-width="1.1"/>
<line x1="279.6" y1="273.6" x2="284.8" y2="270.4" stroke="#e0e0e0" stroke-width="0.7" />
<circle cx="281.6" cy="283.6" r="3.8" fill="#4a4a4a" stroke="#1e1e1e" stroke-width="1.1"/>
<line x1="279.0" y1="285.2" x2="284.2" y2="282.0" stroke="#e0e0e0" stroke-width="0.7" />
<circle cx="330.5" cy="245.3" r="3.8" fill="#4a4a4a" stroke="#1e1e1e" stroke-width="1.1"/>
<line x1="327.9" y1="246.9" x2="333.1" y2="243.7" stroke="#e0e0e0" stroke-width="0.7" />
<circle cx="330.5" cy="262.4" r="3.8" fill="#4a4a4a" stroke="#1e1e1e" stroke-width="1.1"/>
<line x1="327.9" y1="264.0" x2="333.1" y2="260.8" stroke="#e0e0e0" stroke-width="0.7" />
<circle cx="330.3" cy="279.4" r="3.8" fill="#4a4a4a" stroke="#1e1e1e" stroke-width="1.1"/>
<line x1="327.7" y1="281.0" x2="332.9" y2="277.8" stroke="#e0e0e0" stroke-width="0.7" />
<path d="M296.0,152.0 L296.0,100.2 L316.8,100.2 L316.8,152.0" fill="#fff" stroke="#3c3c3c" stroke-width="0.9" />
<rect x="293.2" y="152.0" width="26.7" height="18.0" fill="#fff" stroke="#3c3c3c" stroke-width="0.9" />
<path d="M288.3,218.6 L288.3,171.5 L289.8,170.0 L323.5,170.0 L325.0,171.5 L325.0,218.6" fill="#fff" stroke="#3c3c3c" stroke-width="0.9" />
<rect x="288.8" y="216.0" width="35.7" height="2.2" fill="#a6a6a6" stroke="none" stroke-width="0.9" />
<line x1="288.3" y1="218.6" x2="325.0" y2="218.6" stroke="#3c3c3c" stroke-width="0.8" />
<line x1="290.8" y1="218.6" x2="290.8" y2="221.6" stroke="#3c3c3c" stroke-width="0.7" />
<line x1="322.4" y1="218.6" x2="322.4" y2="221.6" stroke="#3c3c3c" stroke-width="0.7" />
<line x1="315.3" y1="102.0" x2="315.3" y2="150.0" stroke="#666" stroke-width="1.0" stroke-dasharray="10,3"/>
<line x1="291.4" y1="178.0" x2="291.4" y2="216.0" stroke="#555" stroke-width="0.7" stroke-dasharray="12,4"/>
<line x1="320.6" y1="178.0" x2="320.6" y2="216.0" stroke="#555" stroke-width="0.7" stroke-dasharray="12,4"/>
<clipPath id="c9"><path d="M248.6,87.6 L244.5,89.8 L240.0,93.3 L237.0,97.0 L235.0,101.2 L233.7,105.5 L233.2,110.3 L251.6,201.5 L256.9,201.5 L256.9,147.4 L283.8,147.4 L283.8,125.8 L259.0,125.8 L259.0,88.6Z M364.4,87.6 L368.5,89.8 L373.0,93.3 L376.0,97.0 L378.0,101.2 L379.3,105.5 L379.8,110.3 L361.4,201.5 L356.1,201.5 L356.1,147.4 L329.2,147.4 L329.2,125.8 L354.0,125.8 L354.0,88.6Z"/></clipPath>
<path d="M248.6,87.6 L244.5,89.8 L240.0,93.3 L237.0,97.0 L235.0,101.2 L233.7,105.5 L233.2,110.3 L251.6,201.5 L256.9,201.5 L256.9,147.4 L283.8,147.4 L283.8,125.8 L259.0,125.8 L259.0,88.6Z M364.4,87.6 L368.5,89.8 L373.0,93.3 L376.0,97.0 L378.0,101.2 L379.3,105.5 L379.8,110.3 L361.4,201.5 L356.1,201.5 L356.1,147.4 L329.2,147.4 L329.2,125.8 L354.0,125.8 L354.0,88.6Z" fill="#fff" stroke="none"/>
<g clip-path="url(#c9)" fill="none">
<path d="M119.50,202.50L235.40,86.60M123.00,202.50L238.90,86.60M126.50,202.50L242.40,86.60M130.00,202.50L245.90,86.60M133.50,202.50L249.40,86.60M137.00,202.50L252.90,86.60M140.50,202.50L256.40,86.60M144.00,202.50L259.90,86.60M147.50,202.50L263.40,86.60M151.00,202.50L266.90,86.60M154.50,202.50L270.40,86.60M158.00,202.50L273.90,86.60M161.50,202.50L277.40,86.60M165.00,202.50L280.90,86.60M168.50,202.50L284.40,86.60M172.00,202.50L287.90,86.60M175.50,202.50L291.40,86.60M179.00,202.50L294.90,86.60M182.50,202.50L298.40,86.60M186.00,202.50L301.90,86.60M189.50,202.50L305.40,86.60M193.00,202.50L308.90,86.60M196.50,202.50L312.40,86.60M200.00,202.50L315.90,86.60M203.50,202.50L319.40,86.60M207.00,202.50L322.90,86.60M210.50,202.50L326.40,86.60M214.00,202.50L329.90,86.60M217.50,202.50L333.40,86.60M221.00,202.50L336.90,86.60M224.50,202.50L340.40,86.60M228.00,202.50L343.90,86.60M231.50,202.50L347.40,86.60M235.00,202.50L350.90,86.60M238.50,202.50L354.40,86.60M242.00,202.50L357.90,86.60M245.50,202.50L361.40,86.60M249.00,202.50L364.90,86.60M252.50,202.50L368.40,86.60M256.00,202.50L371.90,86.60M259.50,202.50L375.40,86.60M263.00,202.50L378.90,86.60M266.50,202.50L382.40,86.60M270.00,202.50L385.90,86.60M273.50,202.50L389.40,86.60M277.00,202.50L392.90,86.60M280.50,202.50L396.40,86.60M284.00,202.50L399.90,86.60M287.50,202.50L403.40,86.60M291.00,202.50L406.90,86.60M294.50,202.50L410.40,86.60M298.00,202.50L413.90,86.60M301.50,202.50L417.40,86.60M305.00,202.50L420.90,86.60M308.50,202.50L424.40,86.60M312.00,202.50L427.90,86.60M315.50,202.50L431.40,86.60M319.00,202.50L434.90,86.60M322.50,202.50L438.40,86.60M326.00,202.50L441.90,86.60M329.50,202.50L445.40,86.60M333.00,202.50L448.90,86.60M336.50,202.50L452.40,86.60M340.00,202.50L455.90,86.60M343.50,202.50L459.40,86.60M347.00,202.50L462.90,86.60M350.50,202.50L466.40,86.60M354.00,202.50L469.90,86.60M357.50,202.50L473.40,86.60M361.00,202.50L476.90,86.60M364.50,202.50L480.40,86.60M368.00,202.50L483.90,86.60M371.50,202.50L487.40,86.60M375.00,202.50L490.90,86.60M378.50,202.50L494.40,86.60M118.10,86.60L234.00,202.50M121.60,86.60L237.50,202.50M125.10,86.60L241.00,202.50M128.60,86.60L244.50,202.50M132.10,86.60L248.00,202.50M135.60,86.60L251.50,202.50M139.10,86.60L255.00,202.50M142.60,86.60L258.50,202.50M146.10,86.60L262.00,202.50M149.60,86.60L265.50,202.50M153.10,86.60L269.00,202.50M156.60,86.60L272.50,202.50M160.10,86.60L276.00,202.50M163.60,86.60L279.50,202.50M167.10,86.60L283.00,202.50M170.60,86.60L286.50,202.50M174.10,86.60L290.00,202.50M177.60,86.60L293.50,202.50M181.10,86.60L297.00,202.50M184.60,86.60L300.50,202.50M188.10,86.60L304.00,202.50M191.60,86.60L307.50,202.50M195.10,86.60L311.00,202.50M198.60,86.60L314.50,202.50M202.10,86.60L318.00,202.50M205.60,86.60L321.50,202.50M209.10,86.60L325.00,202.50M212.60,86.60L328.50,202.50M216.10,86.60L332.00,202.50M219.60,86.60L335.50,202.50M223.10,86.60L339.00,202.50M226.60,86.60L342.50,202.50M230.10,86.60L346.00,202.50M233.60,86.60L349.50,202.50M237.10,86.60L353.00,202.50M240.60,86.60L356.50,202.50M244.10,86.60L360.00,202.50M247.60,86.60L363.50,202.50M251.10,86.60L367.00,202.50M254.60,86.60L370.50,202.50M258.10,86.60L374.00,202.50M261.60,86.60L377.50,202.50M265.10,86.60L381.00,202.50M268.60,86.60L384.50,202.50M272.10,86.60L388.00,202.50M275.60,86.60L391.50,202.50M279.10,86.60L395.00,202.50M282.60,86.60L398.50,202.50M286.10,86.60L402.00,202.50M289.60,86.60L405.50,202.50M293.10,86.60L409.00,202.50M296.60,86.60L412.50,202.50M300.10,86.60L416.00,202.50M303.60,86.60L419.50,202.50M307.10,86.60L423.00,202.50M310.60,86.60L426.50,202.50M314.10,86.60L430.00,202.50M317.60,86.60L433.50,202.50M321.10,86.60L437.00,202.50M324.60,86.60L440.50,202.50M328.10,86.60L444.00,202.50M331.60,86.60L447.50,202.50M335.10,86.60L451.00,202.50M338.60,86.60L454.50,202.50M342.10,86.60L458.00,202.50M345.60,86.60L461.50,202.50M349.10,86.60L465.00,202.50M352.60,86.60L468.50,202.50M356.10,86.60L472.00,202.50M359.60,86.60L475.50,202.50M363.10,86.60L479.00,202.50M366.60,86.60L482.50,202.50M370.10,86.60L486.00,202.50M373.60,86.60L489.50,202.50M377.10,86.60L493.00,202.50M380.60,86.60L496.50,202.50" stroke="#222" stroke-width="0.8"/>
</g>
<path d="M248.6,87.6 L244.5,89.8 L240.0,93.3 L237.0,97.0 L235.0,101.2 L233.7,105.5 L233.2,110.3 L251.6,201.5 L256.9,201.5 L256.9,147.4 L283.8,147.4 L283.8,125.8 L259.0,125.8 L259.0,88.6Z M364.4,87.6 L368.5,89.8 L373.0,93.3 L376.0,97.0 L378.0,101.2 L379.3,105.5 L379.8,110.3 L361.4,201.5 L356.1,201.5 L356.1,147.4 L329.2,147.4 L329.2,125.8 L354.0,125.8 L354.0,88.6Z" fill="none" stroke="#3c3c3c" stroke-width="0.8"/>
<clipPath id="c10"><path d="M258.0,88.6 L355.0,88.6 L355.0,120.0 L350.6,120.0 L350.6,92.7 L261.9,92.7 L261.9,120.0 L258.0,120.0Z"/></clipPath>
<path d="M258.0,88.6 L355.0,88.6 L355.0,120.0 L350.6,120.0 L350.6,92.7 L261.9,92.7 L261.9,120.0 L258.0,120.0Z" fill="#fff" stroke="none"/>
<g clip-path="url(#c10)" fill="none">
<path d="M224.60,121.00L258.00,87.60M227.00,121.00L260.40,87.60M229.40,121.00L262.80,87.60M231.80,121.00L265.20,87.60M234.20,121.00L267.60,87.60M236.60,121.00L270.00,87.60M239.00,121.00L272.40,87.60M241.40,121.00L274.80,87.60M243.80,121.00L277.20,87.60M246.20,121.00L279.60,87.60M248.60,121.00L282.00,87.60M251.00,121.00L284.40,87.60M253.40,121.00L286.80,87.60M255.80,121.00L289.20,87.60M258.20,121.00L291.60,87.60M260.60,121.00L294.00,87.60M263.00,121.00L296.40,87.60M265.40,121.00L298.80,87.60M267.80,121.00L301.20,87.60M270.20,121.00L303.60,87.60M272.60,121.00L306.00,87.60M275.00,121.00L308.40,87.60M277.40,121.00L310.80,87.60M279.80,121.00L313.20,87.60M282.20,121.00L315.60,87.60M284.60,121.00L318.00,87.60M287.00,121.00L320.40,87.60M289.40,121.00L322.80,87.60M291.80,121.00L325.20,87.60M294.20,121.00L327.60,87.60M296.60,121.00L330.00,87.60M299.00,121.00L332.40,87.60M301.40,121.00L334.80,87.60M303.80,121.00L337.20,87.60M306.20,121.00L339.60,87.60M308.60,121.00L342.00,87.60M311.00,121.00L344.40,87.60M313.40,121.00L346.80,87.60M315.80,121.00L349.20,87.60M318.20,121.00L351.60,87.60M320.60,121.00L354.00,87.60M323.00,121.00L356.40,87.60M325.40,121.00L358.80,87.60M327.80,121.00L361.20,87.60M330.20,121.00L363.60,87.60M332.60,121.00L366.00,87.60M335.00,121.00L368.40,87.60M337.40,121.00L370.80,87.60M339.80,121.00L373.20,87.60M342.20,121.00L375.60,87.60M344.60,121.00L378.00,87.60M347.00,121.00L380.40,87.60M349.40,121.00L382.80,87.60M351.80,121.00L385.20,87.60M354.20,121.00L387.60,87.60M224.40,87.60L257.80,121.00M226.80,87.60L260.20,121.00M229.20,87.60L262.60,121.00M231.60,87.60L265.00,121.00M234.00,87.60L267.40,121.00M236.40,87.60L269.80,121.00M238.80,87.60L272.20,121.00M241.20,87.60L274.60,121.00M243.60,87.60L277.00,121.00M246.00,87.60L279.40,121.00M248.40,87.60L281.80,121.00M250.80,87.60L284.20,121.00M253.20,87.60L286.60,121.00M255.60,87.60L289.00,121.00M258.00,87.60L291.40,121.00M260.40,87.60L293.80,121.00M262.80,87.60L296.20,121.00M265.20,87.60L298.60,121.00M267.60,87.60L301.00,121.00M270.00,87.60L303.40,121.00M272.40,87.60L305.80,121.00M274.80,87.60L308.20,121.00M277.20,87.60L310.60,121.00M279.60,87.60L313.00,121.00M282.00,87.60L315.40,121.00M284.40,87.60L317.80,121.00M286.80,87.60L320.20,121.00M289.20,87.60L322.60,121.00M291.60,87.60L325.00,121.00M294.00,87.60L327.40,121.00M296.40,87.60L329.80,121.00M298.80,87.60L332.20,121.00M301.20,87.60L334.60,121.00M303.60,87.60L337.00,121.00M306.00,87.60L339.40,121.00M308.40,87.60L341.80,121.00M310.80,87.60L344.20,121.00M313.20,87.60L346.60,121.00M315.60,87.60L349.00,121.00M318.00,87.60L351.40,121.00M320.40,87.60L353.80,121.00M322.80,87.60L356.20,121.00M325.20,87.60L358.60,121.00M327.60,87.60L361.00,121.00M330.00,87.60L363.40,121.00M332.40,87.60L365.80,121.00M334.80,87.60L368.20,121.00M337.20,87.60L370.60,121.00M339.60,87.60L373.00,121.00M342.00,87.60L375.40,121.00M344.40,87.60L377.80,121.00M346.80,87.60L380.20,121.00M349.20,87.60L382.60,121.00M351.60,87.60L385.00,121.00M354.00,87.60L387.40,121.00" stroke="#333" stroke-width="0.5"/>
</g>
<path d="M258.0,88.6 L355.0,88.6 L355.0,120.0 L350.6,120.0 L350.6,92.7 L261.9,92.7 L261.9,120.0 L258.0,120.0Z" fill="none" stroke="#3c3c3c" stroke-width="0.6"/>
<rect x="258.3" y="85.9" width="96.4" height="2.8" fill="#1c1c1c" stroke="none" stroke-width="0.9" />
<rect x="261.9" y="93.3" width="5.4" height="8.8" fill="#1c1c1c" stroke="none" stroke-width="0.9" />
<rect x="345.7" y="93.3" width="4.9" height="8.8" fill="#1c1c1c" stroke="none" stroke-width="0.9" />
<clipPath id="c11"><path d="M287.5,102.4 L296.0,102.4 L296.0,124.5 L285.5,124.5 L285.5,105.0Z M325.5,102.4 L317.0,102.4 L317.0,124.5 L327.5,124.5 L327.5,105.0Z"/></clipPath>
<path d="M287.5,102.4 L296.0,102.4 L296.0,124.5 L285.5,124.5 L285.5,105.0Z M325.5,102.4 L317.0,102.4 L317.0,124.5 L327.5,124.5 L327.5,105.0Z" fill="#fff" stroke="none"/>
<g clip-path="url(#c11)" fill="none">
<path d="M261.90,125.50L286.00,101.40M266.10,125.50L290.20,101.40M270.30,125.50L294.40,101.40M274.50,125.50L298.60,101.40M278.70,125.50L302.80,101.40M282.90,125.50L307.00,101.40M287.10,125.50L311.20,101.40M291.30,125.50L315.40,101.40M295.50,125.50L319.60,101.40M299.70,125.50L323.80,101.40M303.90,125.50L328.00,101.40M308.10,125.50L332.20,101.40M312.30,125.50L336.40,101.40M316.50,125.50L340.60,101.40M320.70,125.50L344.80,101.40M324.90,125.50L349.00,101.40" stroke="#2e2e2e" stroke-width="1.3"/>
</g>
<path d="M287.5,102.4 L296.0,102.4 L296.0,124.5 L285.5,124.5 L285.5,105.0Z M325.5,102.4 L317.0,102.4 L317.0,124.5 L327.5,124.5 L327.5,105.0Z" fill="none" stroke="#3c3c3c" stroke-width="0.8"/>
<clipPath id="c12"><path d="M283.8,125.8 L295.8,125.8 L295.8,147.4 L283.8,147.4Z M329.2,125.8 L317.2,125.8 L317.2,147.4 L329.2,147.4Z"/></clipPath>
<path d="M283.8,125.8 L295.8,125.8 L295.8,147.4 L283.8,147.4Z M329.2,125.8 L317.2,125.8 L317.2,147.4 L329.2,147.4Z" fill="#fff" stroke="none"/>
<g clip-path="url(#c12)" fill="none">
<path d="M260.80,124.80L284.40,148.40M264.80,124.80L288.40,148.40M268.80,124.80L292.40,148.40M272.80,124.80L296.40,148.40M276.80,124.80L300.40,148.40M280.80,124.80L304.40,148.40M284.80,124.80L308.40,148.40M288.80,124.80L312.40,148.40M292.80,124.80L316.40,148.40M296.80,124.80L320.40,148.40M300.80,124.80L324.40,148.40M304.80,124.80L328.40,148.40M308.80,124.80L332.40,148.40M312.80,124.80L336.40,148.40M316.80,124.80L340.40,148.40M320.80,124.80L344.40,148.40M324.80,124.80L348.40,148.40M328.80,124.80L352.40,148.40" stroke="#2a2a2a" stroke-width="0.8"/>
</g>
<path d="M283.8,125.8 L295.8,125.8 L295.8,147.4 L283.8,147.4Z M329.2,125.8 L317.2,125.8 L317.2,147.4 L329.2,147.4Z" fill="none" stroke="#3c3c3c" stroke-width="0.8"/>
<line x1="306.5" y1="79.0" x2="306.5" y2="450.5" stroke="#444" stroke-width="0.8" />
<line x1="139.7" y1="369.8" x2="203.0" y2="369.8" stroke="#555" stroke-width="0.8" />
<line x1="209.0" y1="369.8" x2="210.5" y2="369.8" stroke="#8a8a8a" stroke-width="1.2" />
<line x1="213.3" y1="369.8" x2="414.5" y2="369.8" stroke="#7a7a7a" stroke-width="1.2" stroke-dasharray="8.8,8.7"/>
<path d="M214.7,349.0 L218.6,369.8 L215.2,390.0" fill="none" stroke="#666" stroke-width="0.6" />
<path d="M398.0,351.0 L394.4,369.8 L397.4,390.0" fill="none" stroke="#666" stroke-width="0.6" />
<line x1="233.3" y1="57.0" x2="233.3" y2="104.2" stroke="#4a4a4a" stroke-width="0.9" />
<line x1="379.9" y1="57.0" x2="379.9" y2="104.2" stroke="#4a4a4a" stroke-width="0.9" />
<line x1="233.3" y1="64.2" x2="397.5" y2="64.2" stroke="#444" stroke-width="0.9" />
<path d="M233.3,64.2 L251.0,59.9 L251.0,68.5Z" fill="#1c1c1c" stroke="none" stroke-width="0.9" />
<path d="M379.9,64.2 L362.0,59.9 L362.0,68.5Z" fill="#1c1c1c" stroke="none" stroke-width="0.9" />
<line x1="84.0" y1="86.1" x2="250.5" y2="86.1" stroke="#4a4a4a" stroke-width="0.9" />
<line x1="91.1" y1="86.1" x2="91.1" y2="236.4" stroke="#444" stroke-width="0.9" />
<line x1="91.1" y1="271.2" x2="91.1" y2="422.0" stroke="#444" stroke-width="0.9" />
<path d="M91.1,86.1 L86.4,103.4 L95.8,103.4Z" fill="#1c1c1c" stroke="none" stroke-width="0.9" />
<path d="M91.1,422.0 L86.8,405.0 L95.4,405.0Z" fill="#1c1c1c" stroke="none" stroke-width="0.9" />
<line x1="85.5" y1="422.4" x2="215.5" y2="422.4" stroke="#4a4a4a" stroke-width="0.9" />
<line x1="147.5" y1="350.0" x2="147.5" y2="422.0" stroke="#444" stroke-width="0.9" />
<path d="M147.5,369.8 L143.4,387.0 L151.6,387.0Z" fill="#1c1c1c" stroke="none" stroke-width="0.9" />
<path d="M147.5,422.0 L143.4,405.0 L151.6,405.0Z" fill="#1c1c1c" stroke="none" stroke-width="0.9" />
<line x1="262.4" y1="442.7" x2="332.8" y2="442.7" stroke="#666" stroke-width="1.1" />
<line x1="280.4" y1="396.5" x2="280.4" y2="403.0" stroke="#555" stroke-width="0.8" />
<line x1="280.4" y1="405.5" x2="280.4" y2="425.4" stroke="#555" stroke-width="0.8" />
<line x1="280.4" y1="431.5" x2="280.4" y2="449.8" stroke="#555" stroke-width="0.8" />
<line x1="332.8" y1="396.5" x2="332.8" y2="403.0" stroke="#555" stroke-width="0.8" />
<line x1="332.8" y1="405.5" x2="332.8" y2="424.0" stroke="#555" stroke-width="0.8" />
<line x1="332.8" y1="432.0" x2="332.8" y2="450.0" stroke="#555" stroke-width="0.8" />
<path d="M280.6,442.7 L297.4,438.6 L297.4,446.8Z" fill="#1c1c1c" stroke="none" stroke-width="0.9" />
<path d="M332.6,442.7 L315.3,438.6 L315.3,446.8Z" fill="#1c1c1c" stroke="none" stroke-width="0.9" />
<line x1="333.3" y1="425.3" x2="381.0" y2="437.8" stroke="#444" stroke-width="0.9" />
<path d="M333.3,424.6 L351.5,426.2 L347.0,433.8Z" fill="#1c1c1c" stroke="none" stroke-width="0.9" />
<line x1="413.6" y1="311.6" x2="446.7" y2="311.6" stroke="#444" stroke-width="0.9" />
<path d="M413.6,311.6 L429.5,307.5 L429.5,315.7Z" fill="#1c1c1c" stroke="none" stroke-width="0.9" />
<path d="M395.3,369.6 L442.6,356.2 L461.0,356.2" fill="none" stroke="#444" stroke-width="0.9" />
<path d="M395.3,369.8 L405.5,364.3 L407.0,369.6Z" fill="#1c1c1c" stroke="none" stroke-width="0.9" />
<text x="400" y="71.4" font-size="17.2" text-anchor="start" fill="#231f20"  textLength="93.2" lengthAdjust="spacingAndGlyphs">2.1 (53mm)</text><text x="44" y="258.7" font-size="17.2" text-anchor="start" fill="#231f20"  textLength="111.8" lengthAdjust="spacingAndGlyphs">4.81 (122mm)</text><text x="101.7" y="345" font-size="17.2" text-anchor="start" fill="#231f20"  textLength="103" lengthAdjust="spacingAndGlyphs">.750 (19mm)</text><text x="168.8" y="390.8" font-size="17.2" text-anchor="start" fill="#231f20" >OUT</text><text x="406.7" y="390.3" font-size="17.2" text-anchor="start" fill="#231f20" >IN</text><text x="451" y="320.9" font-size="17.2" text-anchor="start" fill="#231f20"  textLength="121" lengthAdjust="spacingAndGlyphs">Ø 3.00 (76mm)</text><text x="462.7" y="364.3" font-size="17.2" text-anchor="start" fill="#231f20" >1/4" NPT</text><text x="480" y="382.6" font-size="17.2" text-anchor="start" fill="#231f20" >TYP</text><text x="160.3" y="448" font-size="17.2" text-anchor="start" fill="#231f20"  textLength="103" lengthAdjust="spacingAndGlyphs">.750 (19mm)</text><text x="384.6" y="444.3" font-size="17.2" text-anchor="start" fill="#231f20"  textLength="306.5" lengthAdjust="spacingAndGlyphs">10-32 UNF x .25 MIN FULL THDS (2X)</text><text x="214" y="482.7" font-size="17.2" text-anchor="start" fill="#231f20"  textLength="205.3" lengthAdjust="spacingAndGlyphs">Weight - 3.2 lbs (1.45 kg)</text>
</svg>
</body></html>
